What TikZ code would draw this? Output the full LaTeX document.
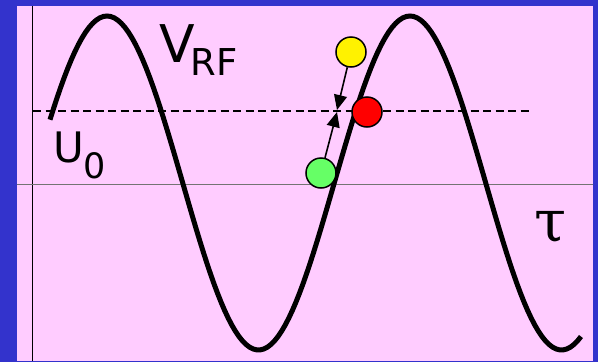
\documentclass[tikz,border=0pt]{standalone}
\usepackage{fontspec}
\setmainfont{DejaVu Sans}
\newfontfamily\greekfont{DejaVu Serif}
\usetikzlibrary{arrows.meta, positioning}
\usepackage{xcolor}
\definecolor{slideblue}{RGB}{51,51,204}
\definecolor{slidepink}{RGB}{255,204,255}
\definecolor{ballgreen}{RGB}{102,255,102}

\tikzset{
  wave/.style={line width=5pt, black},
  axis/.style={line width=1pt},
  level/.style={line width=1.5pt, dash pattern=on 8pt off 4.5pt},
  ball/.style={circle, draw=black, line width=1.5pt, minimum size=30pt, inner sep=0pt},
  push/.style={line width=1.6pt, -{Triangle[length=15pt, width=13pt]}},
  lbl/.style={inner sep=0pt, anchor=base west}
}

\begin{document}
\begin{tikzpicture}[x=1pt, y=-1pt]
  \useasboundingbox (0,0) rectangle (598,362);

  % slide background
  \fill[slideblue] (0,0) rectangle (598,362);
  \fill[slidepink] (17,6) rectangle (593,361);

  % axes
  \draw[axis] (32,6) -- (32,361);
  \draw[axis, black!55] (17,184) -- (593,184);

  % level U0
  \draw[level] (33,111) -- (532,111);

  % rf wave, period 303
  \draw[wave] plot[domain=50:581, samples=150] (\x, {183 - 167*cos(1.18812*(\x-107))});

  % labels
  \node[lbl] (vrf) at (159,62) {\fontsize{52}{52}\selectfont V\kern-4pt\raisebox{-13pt}{\fontsize{37}{37}\selectfont RF}};
  \node[lbl] (u0) at (53,162) {\fontsize{42}{42}\selectfont U\raisebox{-16pt}{\fontsize{35}{35}\selectfont 0}};
  \node[lbl] (tau) at (534,241) {\fontsize{58}{58}\selectfont\greekfont τ};

  % particles
  \foreach \n/\c/\x/\y in {yellowball/yellow/351/52, redball/red/367/112, greenball/ballgreen/321/173} {
    \node[ball, fill=\c] (\n) at (\x,\y) {};
  }
  \coordinate (hitup) at (337,110);
  \coordinate (hitdown) at (337,112);
  \draw[push] (yellowball) -- (hitup);
  \draw[push] (greenball) -- (hitdown);
\end{tikzpicture}
\end{document}
